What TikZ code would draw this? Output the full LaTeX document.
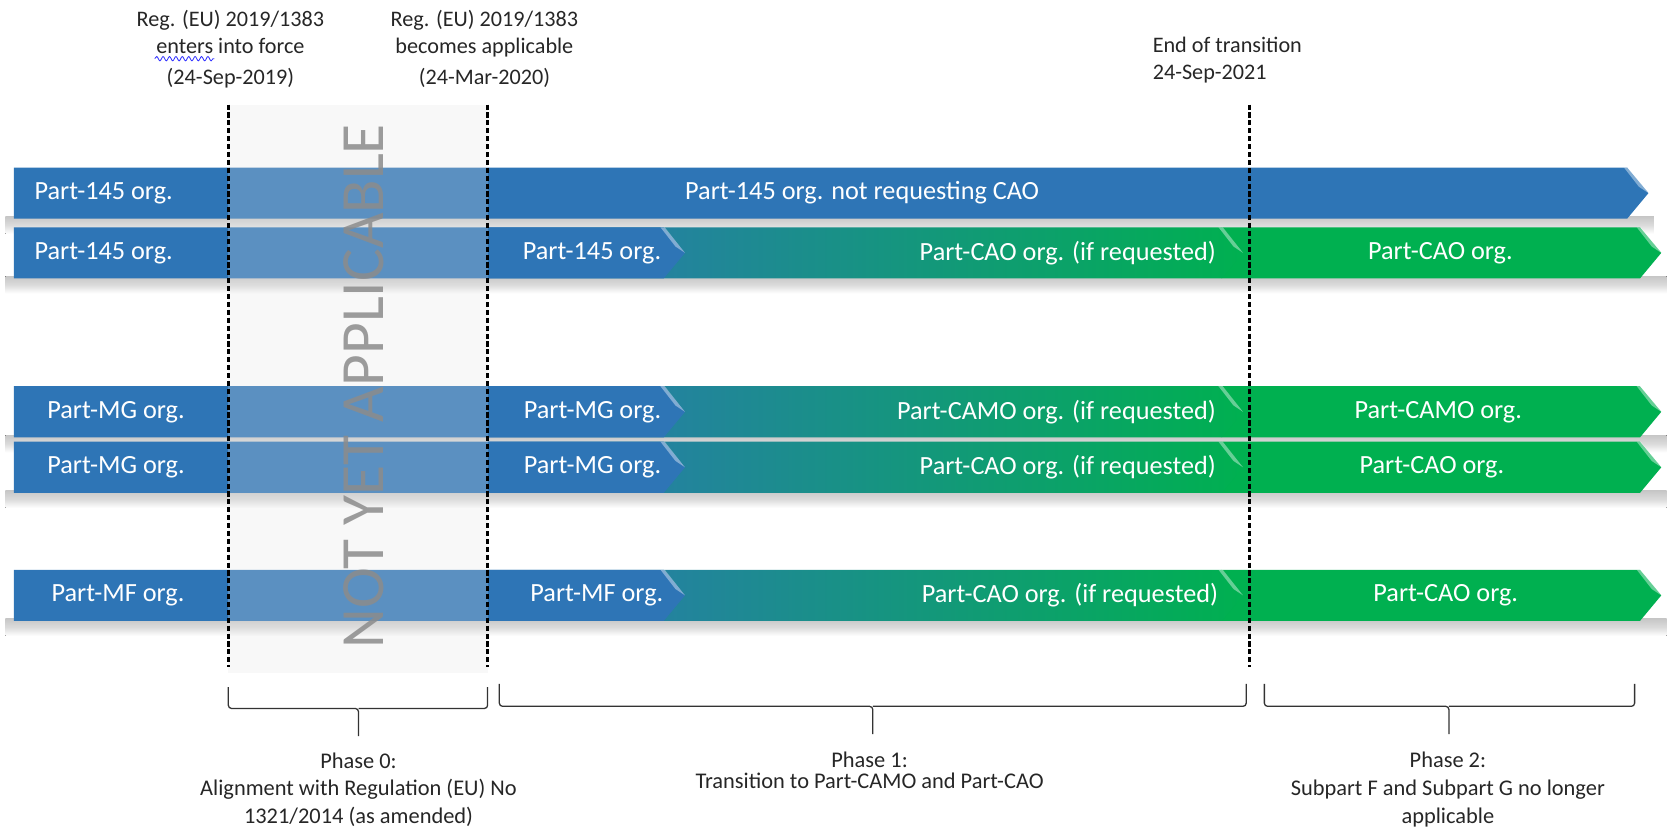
\documentclass[tikz,border=0pt]{standalone}
\usepackage{fontspec}
\setmainfont{Carlito}
\usetikzlibrary{positioning,calc,decorations.pathmorphing}
\definecolor{orgblue}{RGB}{46,117,182}
\definecolor{orggreen}{RGB}{0,176,80}

% arrow-shaped bar: start x, body end x, centre y, fill options
\newcommand{\orgchevron}[4]{%
  \path[#4] (#1,#3-24) -- (#2,#3-24) -- (#2+20,#3) -- (#2,#3+24) -- (#1,#3+24) -- cycle;
  \fill[white,opacity=.4] (#2-3,#3-24) -- (#2+1,#3-24) -- (#2+20,#3) -- (#2+11,#3-6) -- cycle;
}
% soft shadow under a row
\newcommand{\rowshadow}[3]{%
  \fill[top color=black!22,bottom color=white,middle color=black!14] (#1,#3+22) rectangle (#2,#3+38);
}

\begin{document}
\begin{tikzpicture}[x=0.5pt,y=-0.5pt,
  every node/.style={font=\fontsize{12.3}{14}\selectfont},
  orglabel/.style={text=white,inner sep=0pt},
  note/.style={font=\fontsize{10.4}{12.5}\selectfont,text=black!85,align=center,inner sep=0pt},
  phase/.style={font=\fontsize{10.5}{13}\selectfont,text=black!85,align=center,inner sep=0pt},
  milestone/.style={black,line width=1.1pt,dash pattern=on 2.4pt off 1.3pt},
  phasebrace/.style={black!80,line width=0.6pt,rounded corners=1.5pt}]
\useasboundingbox (0,0) rectangle (1568,775);

% shadows
\foreach \y/\e in {181/1550,237/1562,386/1562,438/1562,558/1562}{\rowshadow{5}{\e}{\y}}

% row 1
\orgchevron{13}{1525}{181}{fill=orgblue}
% rows 2-5
\foreach \y in {237,386,438,558}{
  \orgchevron{1145}{1537}{\y}{fill=orggreen}
  \orgchevron{457}{1145}{\y}{left color=orgblue,right color=orggreen}
  \orgchevron{13}{622}{\y}{fill=orgblue}
}

% not yet applicable band
\fill[black!11,opacity=.25] (214,98) rectangle (457,631);
\coordinate (force) at (214,98);
\coordinate (apply) at (457,98);
\coordinate (endtr) at (1171,98);
\foreach \c in {force,apply,endtr}{\draw[milestone] (\c) -- ++(0,527);}
\node[rotate=90,font=\fontsize{28.8}{30}\selectfont,text=black!45,opacity=.85,inner sep=0pt] (nya) at (341,362) {NOT YET APPLICABLE};

% bar labels
\node[orglabel,anchor=west] (r1a) at (32,181) {Part-145 org.};
\node[orglabel] (r1b) at (808,181) {Part-145 org. not requesting CAO};
\node[orglabel,anchor=west] (r2a) at (32,237) {Part-145 org.};
\node[orglabel,anchor=east] (r2b) at (620,237) {Part-145 org.};
\node[orglabel,anchor=east] (r2c) at (1140,237) {Part-CAO org. (if requested)};
\node[orglabel] (r2d) at (1350,237) {Part-CAO org.};
\node[orglabel,anchor=west] (r3a) at (44,386) {Part-MG org.};
\node[orglabel,anchor=east] (r3b) at (620,386) {Part-MG org.};
\node[orglabel,anchor=east] (r3c) at (1140,386) {Part-CAMO org. (if requested)};
\node[orglabel] (r3d) at (1348,386) {Part-CAMO org.};
\node[orglabel,anchor=west] (r4a) at (44,438) {Part-MG org.};
\node[orglabel,anchor=east] (r4b) at (620,438) {Part-MG org.};
\node[orglabel,anchor=east] (r4c) at (1140,438) {Part-CAO org. (if requested)};
\node[orglabel] (r4d) at (1342,438) {Part-CAO org.};
\node[orglabel,anchor=west] (r5a) at (48,558) {Part-MF org.};
\node[orglabel,anchor=east] (r5b) at (622,558) {Part-MF org.};
\node[orglabel,anchor=east] (r5c) at (1142,558) {Part-CAO org. (if requested)};
\node[orglabel] (r5d) at (1355,558) {Part-CAO org.};

% milestones
\node[note] (inforce) at (216,46) {Reg. (EU) 2019/1383\\enters into force\\[2pt](24-Sep-2019)};
\node[note] (applic) at (454,46) {Reg. (EU) 2019/1383\\becomes applicable\\[2pt](24-Mar-2020)};
\node[note,align=left,anchor=west] (endnote) at (1080,56) {End of transition\\24-Sep-2021};
\draw[blue!80,line width=0.4pt,decorate,decoration={snake,amplitude=1pt,segment length=3pt}] (145,55) -- (201,55);

% phases
\draw[phasebrace] (214,644) -- (214,664) -- (336,664) -- (336,690);
\draw[phasebrace] (336,664) -- (457,664) -- (457,644);
\draw[phasebrace] (468,641) -- (468,662) -- (818,662) -- (818,688);
\draw[phasebrace] (818,662) -- (1168,662) -- (1168,641);
\draw[phasebrace] (1185,641) -- (1185,662) -- (1358,662) -- (1358,688);
\draw[phasebrace] (1358,662) -- (1532,662) -- (1532,641);
\node[phase] (ph0) at (336,740) {Phase 0:\\Alignment with Regulation (EU) No\\1321/2014 (as amended)};
\node[phase,font=\fontsize{10.5}{10}\selectfont] (ph1) at (815,722) {Phase 1:\\Transition to Part-CAMO and Part-CAO};
\node[phase] (ph2) at (1357,740) {Phase 2:\\Subpart F and Subpart G no longer\\applicable};
\end{tikzpicture}
\end{document}
